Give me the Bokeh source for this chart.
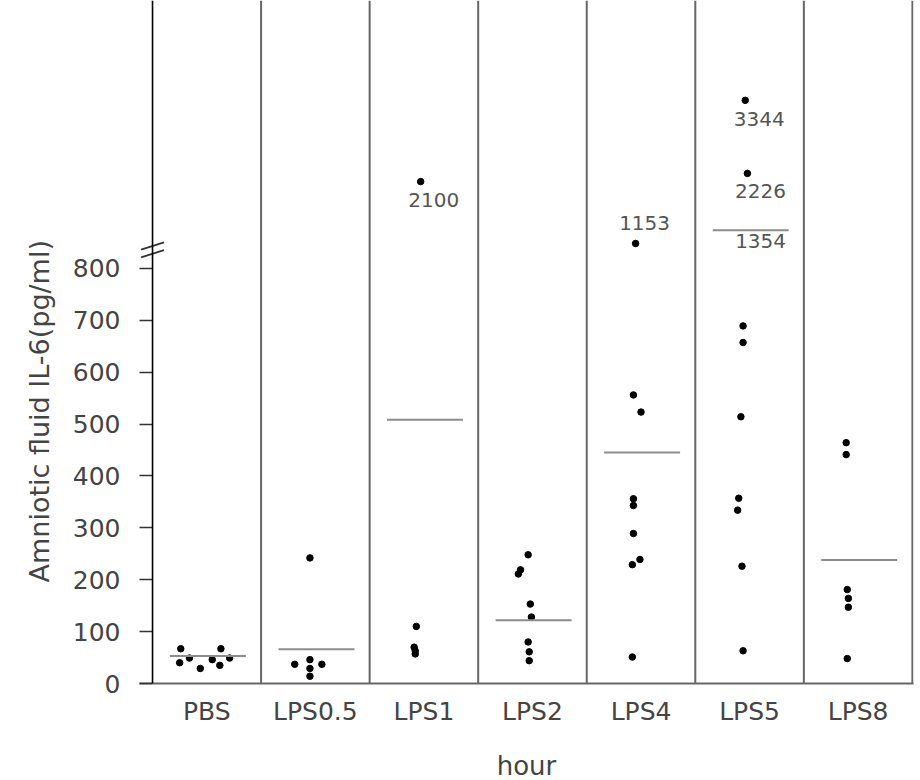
from bokeh.plotting import figure
from bokeh.models import Range1d, FixedTicker, Span, Title
from bokeh.core.properties import value
from bokeh.embed import file_html
from bokeh.resources import INLINE

# ---------------- data ----------------
categories = ["PBS", "LPS0.5", "LPS1", "LPS2", "LPS4", "LPS5", "LPS8"]
pbs = [67, 40, 49, 29, 46, 67, 35, 49]
lps05 = [37, 46, 29, 37, 14, 242]
lps1 = [110, 70, 63, 57, 2100]
lps2 = [248, 219, 211, 153, 128, 80, 61, 44]
lps4 = [556, 523, 356, 343, 289, 229, 239, 51, 1153]
lps5 = [689, 657, 514, 357, 334, 226, 63, 3344, 2226]
lps8 = [464, 441, 181, 164, 147, 48]
group_means = [53, 66, 508, 122, 445, 1354, 238]
y_ticks = [0, 100, 200, 300, 400, 500, 600, 700, 800]
x_title = "hour"
y_title = "Amniotic fluid IL-6(pg/ml)"

# ---------------- layout / style ----------------
groups = [pbs, lps05, lps1, lps2, lps4, lps5, lps8]
# horizontal scatter of the dots inside each column (fraction of a column)
jitter = [
    [-0.24, -0.25, -0.16, -0.06, 0.05, 0.13, 0.12, 0.21],
    [-0.19, -0.05, -0.05, 0.06, -0.05, -0.05],
    [-0.07, -0.09, -0.08, -0.08, -0.03],
    [-0.04, -0.11, -0.13, -0.02, -0.01, -0.04, -0.03, -0.03],
    [-0.07, 0.0, -0.07, -0.07, -0.07, -0.08, -0.01, -0.08, -0.05],
    [-0.06, -0.06, -0.08, -0.10, -0.11, -0.07, -0.06, -0.04, -0.02],
    [-0.11, -0.11, -0.10, -0.09, -0.09, -0.10],
]
BREAK = 800                    # values above this use the compressed upper scale
LOW_RANGE = (0, 1316)          # linear scale of the 0-800 part
HIGH_RANGE = (-5581, 4872)     # compressed scale used above the axis break
FONT = "DejaVu Sans"
TXT = "#444444"
SEP = "#666666"
MEAN_C = "#8c8c8c"
n = len(categories)

p = figure(frame_width=774, frame_height=683,
           x_range=Range1d(-0.12, n + 0.01), y_range=Range1d(*LOW_RANGE),
           output_backend="svg", toolbar_location=None,
           min_border_left=139, min_border_right=4,
           min_border_top=0, min_border_bottom=90)
p.extra_y_ranges = {"high": Range1d(*HIGH_RANGE)}
p.outline_line_color = None
p.xgrid.visible = False
p.ygrid.visible = False
p.background_fill_color = "white"
p.border_fill_color = "white"

# column separators and the y axis line
for k in range(1, n + 1):
    p.add_layout(Span(location=k, dimension="height", line_color=SEP, line_width=2))
p.add_layout(Span(location=0, dimension="height", line_color="black", line_width=1.6))

# ---- y axis (ticks reach the axis line)
ya = p.yaxis[0]
ya.ticker = FixedTicker(ticks=y_ticks)
ya.axis_line_color = None
ya.major_tick_out = 0
ya.major_tick_in = 13
ya.major_tick_line_color = "#333333"
ya.major_tick_line_width = 1.5
ya.minor_tick_line_color = None
ya.major_label_standoff = 19
ya.major_label_text_font = FONT
ya.major_label_text_font_size = "25px"
ya.major_label_text_color = TXT

p.add_layout(Title(text=y_title, align="left", offset=101, standoff=29,
                   text_font=FONT, text_font_size="27px", text_font_style="normal",
                   text_color=TXT), "left")

# ---- x axis
xa = p.xaxis[0]
centers = [i + 0.5 for i in range(n)]
xa.ticker = FixedTicker(ticks=centers)
xa.major_label_overrides = {c: lab for c, lab in zip(centers, categories)}
xa.major_tick_line_color = None
xa.minor_tick_line_color = None
xa.axis_line_color = SEP
xa.axis_line_width = 2
xa.major_label_standoff = 7
xa.major_label_text_font = FONT
xa.major_label_text_font_size = "25px"
xa.major_label_text_color = TXT
xa.axis_label = x_title
xa.axis_label_text_font = FONT
xa.axis_label_text_font_size = "26px"
xa.axis_label_text_font_style = "normal"
xa.axis_label_text_color = TXT
xa.axis_label_standoff = 22

# ---- axis-break mark
p.scatter(x=[0, 0], y=[BREAK + 28, BREAK + 43], marker="dash", size=24, angle=0.3,
          line_color="#333333", line_width=1.8)

# ---- dots
lx, ly, hx, hy = [], [], [], []
for i, (vals, dx) in enumerate(zip(groups, jitter)):
    for v, d in zip(vals, dx):
        if v > BREAK:
            hx.append(i + 0.5 + d); hy.append(v)
        else:
            lx.append(i + 0.5 + d); ly.append(v)
p.scatter(lx, ly, size=6.5, color="black")
p.scatter(hx, hy, size=6.5, color="black", y_range_name="high")

# labels for the values above the axis break
label_dx = [13, 9, 14, 13]
label_dy = [11, -27, 12, 11]
p.text(x=hx, y=hy, text=[str(v) for v in hy], x_offset=label_dx, y_offset=label_dy,
       text_font=value(FONT), text_font_size="20px", text_color="#555555",
       text_align="center", text_baseline="top", y_range_name="high")

# ---- mean lines
for i, m in enumerate(group_means):
    rng = "high" if m > BREAK else "default"
    p.segment(x0=[i + 0.16], x1=[i + 0.86], y0=[m], y1=[m],
              line_color=MEAN_C, line_width=2, y_range_name=rng)
    if m > BREAK:
        p.text(x=[i + 0.5], y=[m], text=[str(m)], x_offset=[11], y_offset=[4],
               text_font=value(FONT), text_font_size="20px", text_color="#555555",
               text_align="center", text_baseline="top", y_range_name="high")

open("out.html", "w").write(file_html(p, INLINE))
